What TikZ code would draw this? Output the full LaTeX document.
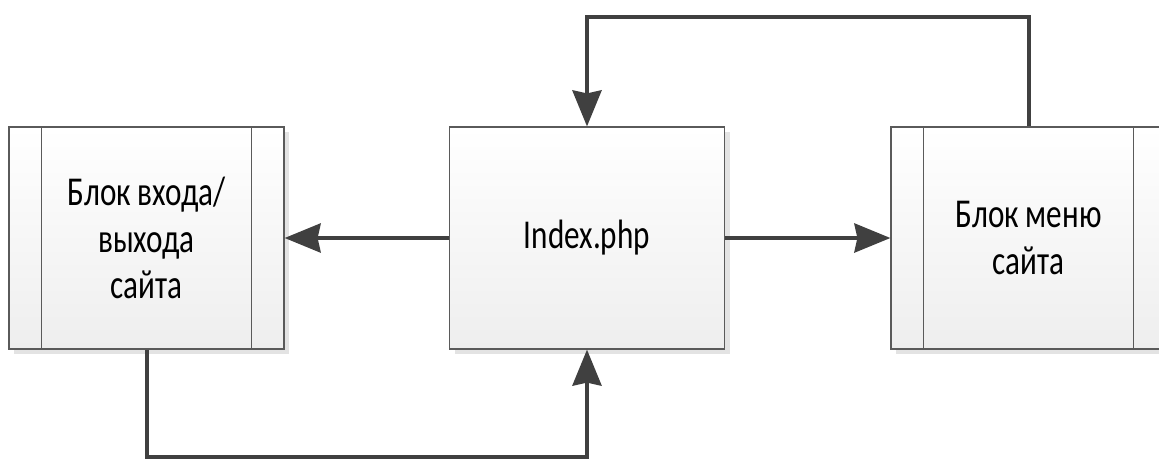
\documentclass[tikz,border=0pt]{standalone}
\usepackage{fontspec}
\setmainfont[FakeStretch=0.76]{Carlito}
\usetikzlibrary{arrows.meta,shadows}
\definecolor{linec}{HTML}{404040}
\definecolor{edgec}{HTML}{5A5A5A}
\definecolor{shadec}{HTML}{E3E3E3}
\definecolor{botc}{HTML}{EEEEEE}
\tikzset{
  block/.style={draw=edgec, line width=1.2pt, rectangle,
    minimum width=275pt, minimum height=222pt, inner sep=0pt,
    top color=white, bottom color=botc, align=center,
    font=\fontsize{41}{46.5}\selectfont,
    drop shadow={shadow xshift=5pt, shadow yshift=-5pt, fill=shadec, opacity=1}},
  flow/.style={draw=linec, line width=4pt,
    -{Stealth[length=36pt, width=29pt, inset=3pt]}},
}
\begin{document}
\begin{tikzpicture}[x=1pt, y=-1pt]
  \useasboundingbox (0,0) rectangle (1159,459);
  \clip (0,0) rectangle (1159,459);
  % three process blocks
  \node[block] (login) at (146.5,238) {Блок входа/\\выхода\\сайта};
  \node[block] (index) at (587,238) {Index.php};
  \node[block] (menu) at (1028.5,238) {Блок меню\\сайта};
  % side bars of the predefined-process blocks
  \foreach \b in {login, menu} {
    \draw[edgec, line width=1.2pt] ([xshift=33pt]\b.north west) -- ([xshift=33pt]\b.south west);
    \draw[edgec, line width=1.2pt] ([xshift=-33pt]\b.north east) -- ([xshift=-33pt]\b.south east);
  }
  % connectors
  \coordinate (topL) at (587,17);
  \coordinate (topR) at (1028.5,17);
  \coordinate (botL) at (146.5,457);
  \coordinate (botR) at (587,457);
  \draw[flow] (index.west) -- (login.east);
  \draw[flow] (index.east) -- (menu.west);
  \draw[flow] (menu.north) -- (topR) -- (topL) -- (index.north);
  \draw[flow] (login.south) -- (botL) -- (botR) -- (index.south);
\end{tikzpicture}
\end{document}
